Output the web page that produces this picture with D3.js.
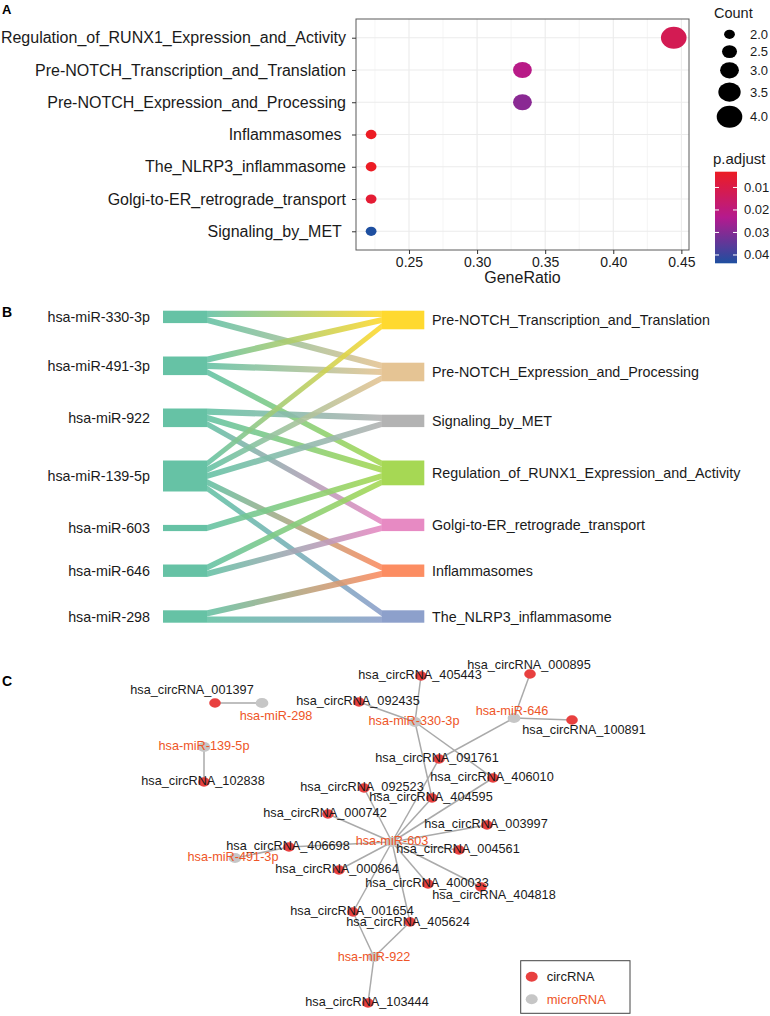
<!DOCTYPE html>
<html><head><meta charset="utf-8">
<script src="https://cdn.jsdelivr.net/npm/d3@7"></script>
<style>
body{margin:0;background:#fff}
svg text{font-family:"Liberation Sans",Arial,Helvetica,sans-serif;white-space:pre}
</style>
</head><body>
<svg id="c" width="770" height="1016"></svg>
<script>
// ---------------- Panel A data ----------------
const pathwaysA = ["Regulation_of_RUNX1_Expression_and_Activity","Pre-NOTCH_Transcription_and_Translation","Pre-NOTCH_Expression_and_Processing","Inflammasomes ","The_NLRP3_inflammasome","Golgi-to-ER_retrograde_transport","Signaling_by_MET "];
const geneRatio = [0.4444,0.3333,0.3333,0.2222,0.2222,0.2222,0.2222];
const geneCount = [4,3,3,2,2,2,2];
const pAdjust = [0.012,0.022,0.029,0.003,0.003,0.006,0.0437];
const xTicksA = [0.25,0.30,0.35,0.40,0.45];
const countLegend = [2.0,2.5,3.0,3.5,4.0];
const pTicks = [0.01,0.02,0.03,0.04];

// ---------------- Panel B data ----------------
const mirnasB = ["hsa-miR-330-3p","hsa-miR-491-3p","hsa-miR-922","hsa-miR-139-5p","hsa-miR-603","hsa-miR-646","hsa-miR-298"];
const pathwaysB = ["Pre-NOTCH_Transcription_and_Translation","Pre-NOTCH_Expression_and_Processing","Signaling_by_MET","Regulation_of_RUNX1_Expression_and_Activity","Golgi-to-ER_retrograde_transport","Inflammasomes","The_NLRP3_inflammasome"];
const linkSource = [0,0,1,1,1,2,2,2,3,3,3,3,3,4,5,5,6,6];
const linkTarget = [0,1,0,1,3,2,3,4,0,1,2,5,6,3,3,4,5,6];
const linkValue  = [1,1,1,1,1,1,1,1,1,1,1,1,1,1,1,1,1,1];
const pathwayColorsB = ["#FFD92F","#E5C494","#B3B3B3","#A6D854","#E78AC3","#FC8D62","#8DA0CB"];
const mirnaColorB = "#66C2A5";

// ---------------- Panel C data ----------------
const circNames = ["hsa_circRNA_001397","hsa_circRNA_102838","hsa_circRNA_092435","hsa_circRNA_405443","hsa_circRNA_000895","hsa_circRNA_100891","hsa_circRNA_091761","hsa_circRNA_406010","hsa_circRNA_092523","hsa_circRNA_404595","hsa_circRNA_000742","hsa_circRNA_003997","hsa_circRNA_406698","hsa_circRNA_004561","hsa_circRNA_000864","hsa_circRNA_400033","hsa_circRNA_404818","hsa_circRNA_001654","hsa_circRNA_405624","hsa_circRNA_103444"];
const mirNames = ["hsa-miR-298","hsa-miR-139-5p","hsa-miR-330-3p","hsa-miR-646","hsa-miR-603","hsa-miR-491-3p","hsa-miR-922"];
const edgeMir  = ["hsa-miR-298","hsa-miR-139-5p","hsa-miR-330-3p","hsa-miR-330-3p","hsa-miR-330-3p","hsa-miR-330-3p","hsa-miR-646","hsa-miR-646","hsa-miR-646","hsa-miR-603","hsa-miR-603","hsa-miR-603","hsa-miR-603","hsa-miR-603","hsa-miR-603","hsa-miR-603","hsa-miR-603","hsa-miR-603","hsa-miR-603","hsa-miR-603","hsa-miR-603","hsa-miR-603","hsa-miR-491-3p","hsa-miR-922","hsa-miR-922","hsa-miR-922"];
const edgeCirc = ["hsa_circRNA_001397","hsa_circRNA_102838","hsa_circRNA_092435","hsa_circRNA_405443","hsa_circRNA_404595","hsa_circRNA_406010","hsa_circRNA_000895","hsa_circRNA_100891","hsa_circRNA_091761","hsa_circRNA_091761","hsa_circRNA_406010","hsa_circRNA_092523","hsa_circRNA_404595","hsa_circRNA_000742","hsa_circRNA_003997","hsa_circRNA_406698","hsa_circRNA_004561","hsa_circRNA_000864","hsa_circRNA_400033","hsa_circRNA_404818","hsa_circRNA_001654","hsa_circRNA_405624","hsa_circRNA_406698","hsa_circRNA_001654","hsa_circRNA_405624","hsa_circRNA_103444"];
const legendC = ["circRNA","microRNA"];

// network layout (from the original force-directed drawing; layout units)
const circLayout = [[215,43],[204,122],[359,42],[421,16],[530,14],[572,60],[439,99],[493,118],[364,128],[432,138],[328,154],[487,165],[289,187],[459,190],[339,210],[428,224],[481,227],[353,252],[410,262],[368,343]];
const circLabelOff = [[-23,-13],[-1,-1],[-1,-1],[-1,-1],[-1,-9],[12,10],[-2,-1],[-1,-1],[-2,-1],[-1,-1],[-3,-1],[-1,-1],[-1,-1],[-1,-1],[-2,-1],[-1,-1],[13,8],[-1,-1],[-2,0],[-1,-1]];
const mirLayout = [[262,43],[204,87],[415,62],[514,58],[392,182],[235,198],[374,297]];
const mirLabelOff = [[14,13],[0,-1],[-1,-1],[-2,-7],[0,-1],[-2,-1],[0,0]];

// ======================================================
const svg = d3.select("#c");
const txt = "#1a1a1a";

// ---------------- Panel A ----------------
const A = {left:356, right:689, top:19, bottom:250};
const xA = d3.scaleLinear().domain([0.2111,0.4556]).range([A.left,A.right]);
const yA = d3.scalePoint().domain(pathwaysA).range([A.top,A.bottom]).padding(0.58);
const rA = d3.scaleSqrt().domain([2,4]).range([5.4,12.8]);
const aspect = 0.86;
const pMin = d3.min(pAdjust), pMax = d3.max(pAdjust);
const colA = d3.scaleLinear().domain([pMin,(pMin+pMax)/2,pMax]).range(["#EC1C24","#B41A8E","#1E4FA0"]).interpolate(d3.interpolateRgb);

svg.append("text").attr("x",2).attr("y",14).attr("font-size",13).attr("font-weight","bold").text("A");

const gA = svg.append("g");
const minorA = d3.range(0.225,0.45,0.05);
gA.selectAll(".minx").data(minorA).join("line")
  .attr("x1",d=>xA(d)).attr("x2",d=>xA(d)).attr("y1",A.top).attr("y2",A.bottom)
  .attr("stroke","#EFEFEF").attr("stroke-width",0.6);
gA.selectAll(".majx").data(xTicksA).join("line")
  .attr("x1",d=>xA(d)).attr("x2",d=>xA(d)).attr("y1",A.top).attr("y2",A.bottom)
  .attr("stroke","#EBEBEB").attr("stroke-width",1.1);
gA.selectAll(".majy").data(pathwaysA).join("line")
  .attr("x1",A.left).attr("x2",A.right).attr("y1",d=>yA(d)).attr("y2",d=>yA(d))
  .attr("stroke","#EBEBEB").attr("stroke-width",1.1);

// dots
gA.selectAll(".dot").data(pathwaysA).join("ellipse")
  .attr("cx",(d,i)=>xA(geneRatio[i])).attr("cy",d=>yA(d))
  .attr("rx",(d,i)=>rA(geneCount[i])).attr("ry",(d,i)=>rA(geneCount[i])*aspect)
  .attr("fill",(d,i)=>colA(pAdjust[i]));

// border
gA.append("rect").attr("x",A.left).attr("y",A.top).attr("width",A.right-A.left).attr("height",A.bottom-A.top)
  .attr("fill","none").attr("stroke","#5a5a5a").attr("stroke-width",1);

// y axis
const yAxA = gA.append("g").attr("transform",`translate(${A.left},0)`)
  .call(d3.axisLeft(yA).tickSize(4).tickPadding(6));
yAxA.select(".domain").remove();
yAxA.selectAll("line").attr("stroke","#333");
yAxA.selectAll("text").attr("font-size",16).attr("fill",txt).style("font-family",null);

// x axis
const xAxA = gA.append("g").attr("transform",`translate(0,${A.bottom})`)
  .call(d3.axisBottom(xA).tickValues(xTicksA).tickFormat(d3.format(".2f")).tickSize(4).tickPadding(3));
xAxA.select(".domain").remove();
xAxA.selectAll("line").attr("stroke","#333");
xAxA.selectAll("text").attr("font-size",14).attr("fill",txt).style("font-family",null);
gA.append("text").attr("x",(A.left+A.right)/2).attr("y",283).attr("text-anchor","middle")
  .attr("font-size",16).attr("fill",txt).text("GeneRatio");

// size legend
const legA = svg.append("g");
legA.append("text").attr("x",714).attr("y",18).attr("font-size",14.5).attr("fill",txt).text("Count");
let cy = 34.3, prevH = null;
const keyH = countLegend.map(c=>Math.max(17.3, 2*rA(c)*aspect+4));
const legY = [];
countLegend.forEach((c,i)=>{ if(i>0) cy += (keyH[i-1]+keyH[i])/2; legY.push(cy); });
legA.selectAll("ellipse").data(countLegend).join("ellipse")
  .attr("cx",729.5).attr("cy",(d,i)=>legY[i]).attr("rx",d=>rA(d)).attr("ry",d=>rA(d)*aspect).attr("fill","#000");
legA.selectAll(".cl").data(countLegend).join("text")
  .attr("x",750).attr("y",(d,i)=>legY[i]+4.5).attr("font-size",13).attr("fill",txt).text(d=>d3.format(".1f")(d));

// colour bar
legA.append("text").attr("x",713).attr("y",164).attr("font-size",15).attr("fill",txt).text("p.adjust");
const cbTop = 171.7, cbBot = 263.3, cbX = 715, cbW = 22;
const yCB = d3.scaleLinear().domain([pMin,pMax]).range([cbTop,cbBot]);
const defs = svg.append("defs");
const cg = defs.append("linearGradient").attr("id","cbar").attr("x1",0).attr("x2",0).attr("y1",0).attr("y2",1);
d3.range(0,1.0001,0.05).forEach(t=>{
  cg.append("stop").attr("offset",t).attr("stop-color",colA(pMin+t*(pMax-pMin)));
});
legA.append("rect").attr("x",cbX).attr("y",cbTop).attr("width",cbW).attr("height",cbBot-cbTop).attr("fill","url(#cbar)");
pTicks.forEach(p=>{
  legA.append("line").attr("x1",cbX).attr("x2",cbX+4).attr("y1",yCB(p)).attr("y2",yCB(p)).attr("stroke","#fff").attr("stroke-width",1);
  legA.append("line").attr("x1",cbX+cbW-4).attr("x2",cbX+cbW).attr("y1",yCB(p)).attr("y2",yCB(p)).attr("stroke","#fff").attr("stroke-width",1);
});
legA.selectAll(".pl").data(pTicks).join("text")
  .attr("x",744).attr("y",d=>yCB(d)+4.5).attr("font-size",13).attr("fill",txt).text(d=>d3.format(".2f")(d));

// ---------------- Panel B ----------------
svg.append("text").attr("x",2).attr("y",317).attr("font-size",14).attr("font-weight","bold").text("B");
const gB = svg.append("g");
const gapUnits = 5.39;
const totalUnits = d3.sum(linkValue);
const yB = d3.scaleLinear().domain([0, totalUnits + (mirnasB.length-1)*gapUnits]).range([310.7, 622.7]);
const xB = {l0:163, l1:207, r0:382, r1:424.3};

function layoutNodes(names, key){
  let acc = 0;
  return names.map((n,i)=>{
    const v = d3.sum(linkValue.filter((_,j)=>key[j]===i));
    const node = {name:n, i, y0:acc + i*gapUnits, v};
    node.y1 = node.y0 + v;
    acc += v;
    return node;
  });
}
const leftNodes = layoutNodes(mirnasB, linkSource);
const rightNodes = layoutNodes(pathwaysB, linkTarget);
const links = linkSource.map((s,j)=>({s, t:linkTarget[j], v:linkValue[j], j}));
// offsets within source (ordered by target), within target (ordered by source)
leftNodes.forEach(n=>{
  let off = n.y0;
  links.filter(l=>l.s===n.i).sort((a,b)=>a.t-b.t).forEach(l=>{ l.sy0=off; off+=l.v; l.sy1=off; });
});
rightNodes.forEach(n=>{
  let off = n.y0;
  links.filter(l=>l.t===n.i).sort((a,b)=>a.s-b.s).forEach(l=>{ l.ty0=off; off+=l.v; l.ty1=off; });
});
pathwaysB.forEach((p,i)=>{
  const g = defs.append("linearGradient").attr("id","lg"+i).attr("gradientUnits","userSpaceOnUse")
    .attr("x1",xB.l1).attr("x2",xB.r0).attr("y1",0).attr("y2",0);
  g.append("stop").attr("offset",0).attr("stop-color",mirnaColorB);
  g.append("stop").attr("offset",1).attr("stop-color",pathwayColorsB[i]);
});
gB.selectAll(".lnk").data(links).join("path")
  .attr("d",l=>`M${xB.l1},${yB(l.sy0)}L${xB.r0},${yB(l.ty0)}L${xB.r0},${yB(l.ty1)}L${xB.l1},${yB(l.sy1)}Z`)
  .attr("fill",l=>`url(#lg${l.t})`).attr("opacity",0.9);
gB.selectAll(".ln").data(leftNodes).join("rect")
  .attr("x",xB.l0).attr("width",xB.l1-xB.l0).attr("y",d=>yB(d.y0)).attr("height",d=>yB(d.y1)-yB(d.y0))
  .attr("fill",mirnaColorB);
gB.selectAll(".rn").data(rightNodes).join("rect")
  .attr("x",xB.r0).attr("width",xB.r1-xB.r0).attr("y",d=>yB(d.y0)).attr("height",d=>yB(d.y1)-yB(d.y0))
  .attr("fill",(d,i)=>pathwayColorsB[i]);
gB.selectAll(".ll").data(leftNodes).join("text")
  .attr("x",150).attr("y",d=>(yB(d.y0)+yB(d.y1))/2).attr("dy","0.35em").attr("text-anchor","end")
  .attr("font-size",14.3).attr("fill",txt).text(d=>d.name);
gB.selectAll(".rl").data(rightNodes).join("text")
  .attr("x",432).attr("y",d=>(yB(d.y0)+yB(d.y1))/2).attr("dy","0.35em")
  .attr("font-size",14.3).attr("fill",txt).text(d=>d.name);

// ---------------- Panel C ----------------
svg.append("text").attr("x",2).attr("y",686).attr("font-size",14).attr("font-weight","bold").text("C");
const gC = svg.append("g");
const xC = d3.scaleLinear().domain([0,770]).range([0,770]);
const yC = d3.scaleLinear().domain([0,400]).range([660,1060]);
const nodeMap = new Map();
circNames.forEach((n,i)=>nodeMap.set(n,{name:n,type:"circ",x:circLayout[i][0],y:circLayout[i][1],dx:circLabelOff[i][0],dy:circLabelOff[i][1]}));
mirNames.forEach((n,i)=>nodeMap.set(n,{name:n,type:"mir",x:mirLayout[i][0],y:mirLayout[i][1],dx:mirLabelOff[i][0],dy:mirLabelOff[i][1]}));
const nodes = [...nodeMap.values()];
const circCol = "#E8403F", mirCol = "#C6C6C6", mirTxt = "#EE5527";

gC.selectAll(".edge").data(edgeMir.map((m,i)=>[nodeMap.get(m),nodeMap.get(edgeCirc[i])])).join("line")
  .attr("x1",d=>xC(d[0].x)).attr("y1",d=>yC(d[0].y)).attr("x2",d=>xC(d[1].x)).attr("y2",d=>yC(d[1].y))
  .attr("stroke","#AAAAAA").attr("stroke-width",1.5);
gC.selectAll(".node").data(nodes).join("ellipse")
  .attr("cx",d=>xC(d.x)).attr("cy",d=>yC(d.y))
  .attr("rx",d=>d.type==="circ"?5.8:6.4).attr("ry",d=>d.type==="circ"?4.7:5.1)
  .attr("fill",d=>d.type==="circ"?circCol:mirCol);
gC.selectAll(".nl").data(nodes).join("text")
  .attr("x",d=>xC(d.x+d.dx)).attr("y",d=>yC(d.y+d.dy)).attr("dy","0.35em").attr("text-anchor","middle")
  .attr("font-size",12.7).attr("fill",d=>d.type==="circ"?txt:mirTxt).text(d=>d.name);

// legend C
const lg = gC.append("g");
lg.append("rect").attr("x",520.7).attr("y",960.7).attr("width",109.3).attr("height",52.6)
  .attr("fill","#fff").attr("stroke","#444").attr("stroke-width",1);
lg.selectAll("ellipse").data(legendC).join("ellipse")
  .attr("cx",531.7).attr("cy",(d,i)=>976.7+i*22.6).attr("rx",6).attr("ry",5)
  .attr("fill",(d,i)=>i===0?circCol:mirCol);
lg.selectAll("text").data(legendC).join("text")
  .attr("x",546.7).attr("y",(d,i)=>976.7+i*22.6).attr("dy","0.35em").attr("font-size",13)
  .attr("fill",(d,i)=>i===0?txt:mirTxt).text(d=>d);
</script>
</body></html>
